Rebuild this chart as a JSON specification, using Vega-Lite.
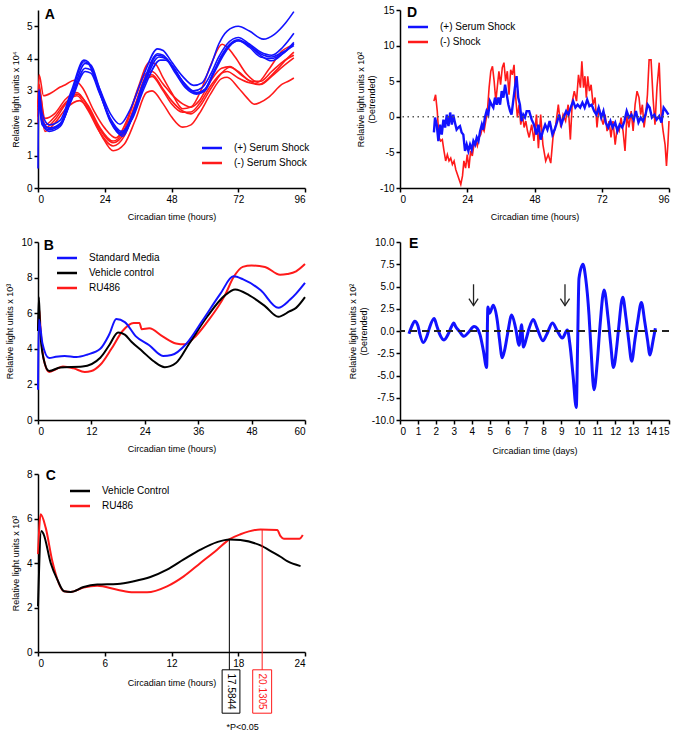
{
"$schema": "https://vega.github.io/schema/vega-lite/v6.json",
"padding": {"left": 5, "top": 5, "right": 4, "bottom": 2},
"bounds": "flush",
"columns": 2,
"spacing": {"row": 54, "column": 95},
"resolve": {"scale": {"color": "independent"}, "legend": {"color": "independent"}},
"config": {
  "font": "Liberation Sans",
  "locale": {"number": {"decimal": ".", "thousands": ",", "grouping": [3], "currency": ["$", ""], "minus": "-"}},
  "view": {"stroke": null},
  "axis": {"grid": false, "labelOverlap": false, "domainColor": "#000", "domainWidth": 1.5, "tickColor": "#000", "tickWidth": 1.5, "tickSize": 4, "labelColor": "#000", "labelFontSize": 10, "labelPadding": 2, "titleColor": "#000", "titleFontSize": 9, "titleFontWeight": "normal"},
  "axisX": {"titlePadding": 8},
  "axisY": {"titlePadding": 6},
  "legend": {"labelFontSize": 10, "labelColor": "#000", "symbolType": "M-1.54,0H1.54", "symbolStrokeWidth": 2.5, "symbolSize": 169, "rowPadding": 2, "labelOffset": 14}
},
"datasets": {
"A": [
{"t":0,"v":2.6,"s":"(-) Serum Shock","r":"r1"},{"t":0.4,"v":3.5,"s":"(-) Serum Shock","r":"r1"},{"t":2,"v":2.85,"s":"(-) Serum Shock","r":"r1"},{"t":5,"v":2.95,"s":"(-) Serum Shock","r":"r1"},{"t":8,"v":3.12,"s":"(-) Serum Shock","r":"r1"},{"t":10,"v":3.2,"s":"(-) Serum Shock","r":"r1"},{"t":13,"v":3.33,"s":"(-) Serum Shock","r":"r1"},{"t":16,"v":3.1,"s":"(-) Serum Shock","r":"r1"},{"t":20,"v":2.4,"s":"(-) Serum Shock","r":"r1"},{"t":24,"v":1.85,"s":"(-) Serum Shock","r":"r1"},{"t":28,"v":1.55,"s":"(-) Serum Shock","r":"r1"},{"t":32,"v":2.1,"s":"(-) Serum Shock","r":"r1"},{"t":36,"v":3.1,"s":"(-) Serum Shock","r":"r1"},{"t":40,"v":3.88,"s":"(-) Serum Shock","r":"r1"},{"t":42,"v":3.85,"s":"(-) Serum Shock","r":"r1"},{"t":45,"v":3.4,"s":"(-) Serum Shock","r":"r1"},{"t":48,"v":2.95,"s":"(-) Serum Shock","r":"r1"},{"t":52,"v":2.45,"s":"(-) Serum Shock","r":"r1"},{"t":55,"v":2.5,"s":"(-) Serum Shock","r":"r1"},{"t":59,"v":3.1,"s":"(-) Serum Shock","r":"r1"},{"t":62.6,"v":3.9,"s":"(-) Serum Shock","r":"r1"},{"t":66.2,"v":4.44,"s":"(-) Serum Shock","r":"r1"},{"t":68,"v":4.35,"s":"(-) Serum Shock","r":"r1"},{"t":71,"v":4.03,"s":"(-) Serum Shock","r":"r1"},{"t":75,"v":3.52,"s":"(-) Serum Shock","r":"r1"},{"t":79,"v":3.27,"s":"(-) Serum Shock","r":"r1"},{"t":83,"v":3.67,"s":"(-) Serum Shock","r":"r1"},{"t":87.8,"v":4.24,"s":"(-) Serum Shock","r":"r1"},{"t":91,"v":4.4,"s":"(-) Serum Shock","r":"r1"},{"t":92,"v":4.45,"s":"(-) Serum Shock","r":"r1"},
{"t":0,"v":2.2,"s":"(-) Serum Shock","r":"r2"},{"t":0.4,"v":3.0,"s":"(-) Serum Shock","r":"r2"},{"t":2.5,"v":2.15,"s":"(-) Serum Shock","r":"r2"},{"t":6,"v":2.3,"s":"(-) Serum Shock","r":"r2"},{"t":10,"v":2.75,"s":"(-) Serum Shock","r":"r2"},{"t":14,"v":2.95,"s":"(-) Serum Shock","r":"r2"},{"t":18,"v":2.5,"s":"(-) Serum Shock","r":"r2"},{"t":22,"v":1.85,"s":"(-) Serum Shock","r":"r2"},{"t":27,"v":1.4,"s":"(-) Serum Shock","r":"r2"},{"t":31,"v":1.7,"s":"(-) Serum Shock","r":"r2"},{"t":35,"v":2.6,"s":"(-) Serum Shock","r":"r2"},{"t":39,"v":3.45,"s":"(-) Serum Shock","r":"r2"},{"t":41,"v":3.5,"s":"(-) Serum Shock","r":"r2"},{"t":45,"v":3.05,"s":"(-) Serum Shock","r":"r2"},{"t":48,"v":2.7,"s":"(-) Serum Shock","r":"r2"},{"t":52,"v":2.38,"s":"(-) Serum Shock","r":"r2"},{"t":55,"v":2.29,"s":"(-) Serum Shock","r":"r2"},{"t":58,"v":2.5,"s":"(-) Serum Shock","r":"r2"},{"t":62,"v":3.05,"s":"(-) Serum Shock","r":"r2"},{"t":66,"v":3.55,"s":"(-) Serum Shock","r":"r2"},{"t":69,"v":3.73,"s":"(-) Serum Shock","r":"r2"},{"t":72,"v":3.6,"s":"(-) Serum Shock","r":"r2"},{"t":76,"v":3.31,"s":"(-) Serum Shock","r":"r2"},{"t":79.5,"v":3.2,"s":"(-) Serum Shock","r":"r2"},{"t":85.5,"v":3.62,"s":"(-) Serum Shock","r":"r2"},{"t":89,"v":3.95,"s":"(-) Serum Shock","r":"r2"},{"t":92,"v":4.2,"s":"(-) Serum Shock","r":"r2"},
{"t":0,"v":2.4,"s":"(-) Serum Shock","r":"r3"},{"t":0.4,"v":2.9,"s":"(-) Serum Shock","r":"r3"},{"t":2.5,"v":1.95,"s":"(-) Serum Shock","r":"r3"},{"t":6,"v":2.2,"s":"(-) Serum Shock","r":"r3"},{"t":10,"v":2.65,"s":"(-) Serum Shock","r":"r3"},{"t":14,"v":2.85,"s":"(-) Serum Shock","r":"r3"},{"t":18,"v":2.4,"s":"(-) Serum Shock","r":"r3"},{"t":22,"v":1.75,"s":"(-) Serum Shock","r":"r3"},{"t":27,"v":1.3,"s":"(-) Serum Shock","r":"r3"},{"t":31,"v":1.6,"s":"(-) Serum Shock","r":"r3"},{"t":35,"v":2.5,"s":"(-) Serum Shock","r":"r3"},{"t":39,"v":3.35,"s":"(-) Serum Shock","r":"r3"},{"t":41,"v":3.45,"s":"(-) Serum Shock","r":"r3"},{"t":45,"v":3.0,"s":"(-) Serum Shock","r":"r3"},{"t":48,"v":2.6,"s":"(-) Serum Shock","r":"r3"},{"t":52,"v":2.34,"s":"(-) Serum Shock","r":"r3"},{"t":55,"v":2.35,"s":"(-) Serum Shock","r":"r3"},{"t":58,"v":2.6,"s":"(-) Serum Shock","r":"r3"},{"t":62,"v":3.15,"s":"(-) Serum Shock","r":"r3"},{"t":66,"v":3.55,"s":"(-) Serum Shock","r":"r3"},{"t":68,"v":3.6,"s":"(-) Serum Shock","r":"r3"},{"t":72,"v":3.4,"s":"(-) Serum Shock","r":"r3"},{"t":76,"v":3.25,"s":"(-) Serum Shock","r":"r3"},{"t":80,"v":3.2,"s":"(-) Serum Shock","r":"r3"},{"t":84,"v":3.45,"s":"(-) Serum Shock","r":"r3"},{"t":88,"v":3.75,"s":"(-) Serum Shock","r":"r3"},{"t":92,"v":4.02,"s":"(-) Serum Shock","r":"r3"},
{"t":0,"v":2.0,"s":"(-) Serum Shock","r":"r4"},{"t":0.4,"v":2.7,"s":"(-) Serum Shock","r":"r4"},{"t":2.5,"v":1.75,"s":"(-) Serum Shock","r":"r4"},{"t":6,"v":2.0,"s":"(-) Serum Shock","r":"r4"},{"t":10,"v":2.45,"s":"(-) Serum Shock","r":"r4"},{"t":15,"v":2.7,"s":"(-) Serum Shock","r":"r4"},{"t":19,"v":2.3,"s":"(-) Serum Shock","r":"r4"},{"t":23,"v":1.6,"s":"(-) Serum Shock","r":"r4"},{"t":27,"v":1.15,"s":"(-) Serum Shock","r":"r4"},{"t":31,"v":1.35,"s":"(-) Serum Shock","r":"r4"},{"t":35,"v":2.1,"s":"(-) Serum Shock","r":"r4"},{"t":39,"v":2.95,"s":"(-) Serum Shock","r":"r4"},{"t":41,"v":3.0,"s":"(-) Serum Shock","r":"r4"},{"t":45,"v":2.6,"s":"(-) Serum Shock","r":"r4"},{"t":48,"v":2.2,"s":"(-) Serum Shock","r":"r4"},{"t":52,"v":1.88,"s":"(-) Serum Shock","r":"r4"},{"t":55,"v":1.95,"s":"(-) Serum Shock","r":"r4"},{"t":58,"v":2.3,"s":"(-) Serum Shock","r":"r4"},{"t":62,"v":2.9,"s":"(-) Serum Shock","r":"r4"},{"t":66,"v":3.38,"s":"(-) Serum Shock","r":"r4"},{"t":68,"v":3.42,"s":"(-) Serum Shock","r":"r4"},{"t":72,"v":3.1,"s":"(-) Serum Shock","r":"r4"},{"t":75,"v":2.8,"s":"(-) Serum Shock","r":"r4"},{"t":77.7,"v":2.59,"s":"(-) Serum Shock","r":"r4"},{"t":80,"v":2.65,"s":"(-) Serum Shock","r":"r4"},{"t":83,"v":2.81,"s":"(-) Serum Shock","r":"r4"},{"t":87.8,"v":3.21,"s":"(-) Serum Shock","r":"r4"},{"t":90,"v":3.3,"s":"(-) Serum Shock","r":"r4"},{"t":92,"v":3.4,"s":"(-) Serum Shock","r":"r4"},
{"t":0,"v":2.5,"s":"(-) Serum Shock","r":"r5"},{"t":0.4,"v":3.2,"s":"(-) Serum Shock","r":"r5"},{"t":2.5,"v":1.85,"s":"(-) Serum Shock","r":"r5"},{"t":6,"v":2.1,"s":"(-) Serum Shock","r":"r5"},{"t":10,"v":2.6,"s":"(-) Serum Shock","r":"r5"},{"t":14,"v":2.9,"s":"(-) Serum Shock","r":"r5"},{"t":18,"v":2.55,"s":"(-) Serum Shock","r":"r5"},{"t":22,"v":1.9,"s":"(-) Serum Shock","r":"r5"},{"t":27,"v":1.45,"s":"(-) Serum Shock","r":"r5"},{"t":31,"v":1.8,"s":"(-) Serum Shock","r":"r5"},{"t":35,"v":2.8,"s":"(-) Serum Shock","r":"r5"},{"t":39,"v":3.55,"s":"(-) Serum Shock","r":"r5"},{"t":41,"v":3.6,"s":"(-) Serum Shock","r":"r5"},{"t":45,"v":3.21,"s":"(-) Serum Shock","r":"r5"},{"t":48,"v":2.9,"s":"(-) Serum Shock","r":"r5"},{"t":52,"v":2.6,"s":"(-) Serum Shock","r":"r5"},{"t":55,"v":2.5,"s":"(-) Serum Shock","r":"r5"},{"t":58,"v":2.7,"s":"(-) Serum Shock","r":"r5"},{"t":62,"v":3.3,"s":"(-) Serum Shock","r":"r5"},{"t":66,"v":3.7,"s":"(-) Serum Shock","r":"r5"},{"t":69,"v":3.75,"s":"(-) Serum Shock","r":"r5"},{"t":73,"v":3.5,"s":"(-) Serum Shock","r":"r5"},{"t":77,"v":3.3,"s":"(-) Serum Shock","r":"r5"},{"t":80,"v":3.3,"s":"(-) Serum Shock","r":"r5"},{"t":84,"v":3.6,"s":"(-) Serum Shock","r":"r5"},{"t":88,"v":3.9,"s":"(-) Serum Shock","r":"r5"},{"t":92,"v":4.1,"s":"(-) Serum Shock","r":"r5"},
{"t":0,"v":0.6,"s":"(+) Serum Shock","r":"b1"},{"t":0.3,"v":3.05,"s":"(+) Serum Shock","r":"b1"},{"t":1.5,"v":2.3,"s":"(+) Serum Shock","r":"b1"},{"t":4,"v":1.95,"s":"(+) Serum Shock","r":"b1"},{"t":8,"v":2.1,"s":"(+) Serum Shock","r":"b1"},{"t":12,"v":3.0,"s":"(+) Serum Shock","r":"b1"},{"t":16.5,"v":3.95,"s":"(+) Serum Shock","r":"b1"},{"t":18,"v":3.9,"s":"(+) Serum Shock","r":"b1"},{"t":22,"v":3.1,"s":"(+) Serum Shock","r":"b1"},{"t":26,"v":2.3,"s":"(+) Serum Shock","r":"b1"},{"t":29.5,"v":1.97,"s":"(+) Serum Shock","r":"b1"},{"t":33,"v":2.4,"s":"(+) Serum Shock","r":"b1"},{"t":38,"v":3.5,"s":"(+) Serum Shock","r":"b1"},{"t":43,"v":4.3,"s":"(+) Serum Shock","r":"b1"},{"t":45,"v":4.25,"s":"(+) Serum Shock","r":"b1"},{"t":48,"v":3.9,"s":"(+) Serum Shock","r":"b1"},{"t":52,"v":3.45,"s":"(+) Serum Shock","r":"b1"},{"t":56,"v":3.17,"s":"(+) Serum Shock","r":"b1"},{"t":59,"v":3.25,"s":"(+) Serum Shock","r":"b1"},{"t":62,"v":3.75,"s":"(+) Serum Shock","r":"b1"},{"t":65,"v":4.45,"s":"(+) Serum Shock","r":"b1"},{"t":68,"v":4.85,"s":"(+) Serum Shock","r":"b1"},{"t":72,"v":5.0,"s":"(+) Serum Shock","r":"b1"},{"t":76,"v":4.85,"s":"(+) Serum Shock","r":"b1"},{"t":81,"v":4.6,"s":"(+) Serum Shock","r":"b1"},{"t":85,"v":4.75,"s":"(+) Serum Shock","r":"b1"},{"t":89,"v":5.1,"s":"(+) Serum Shock","r":"b1"},{"t":92,"v":5.45,"s":"(+) Serum Shock","r":"b1"},
{"t":0.3,"v":3.0,"s":"(+) Serum Shock","r":"b2"},{"t":1.5,"v":2.1,"s":"(+) Serum Shock","r":"b2"},{"t":4,"v":1.85,"s":"(+) Serum Shock","r":"b2"},{"t":8,"v":2.0,"s":"(+) Serum Shock","r":"b2"},{"t":12,"v":2.9,"s":"(+) Serum Shock","r":"b2"},{"t":16.5,"v":3.9,"s":"(+) Serum Shock","r":"b2"},{"t":18,"v":3.85,"s":"(+) Serum Shock","r":"b2"},{"t":22,"v":3.0,"s":"(+) Serum Shock","r":"b2"},{"t":26,"v":2.1,"s":"(+) Serum Shock","r":"b2"},{"t":30,"v":1.7,"s":"(+) Serum Shock","r":"b2"},{"t":34,"v":2.3,"s":"(+) Serum Shock","r":"b2"},{"t":38,"v":3.3,"s":"(+) Serum Shock","r":"b2"},{"t":43,"v":4.15,"s":"(+) Serum Shock","r":"b2"},{"t":45,"v":4.1,"s":"(+) Serum Shock","r":"b2"},{"t":48,"v":3.8,"s":"(+) Serum Shock","r":"b2"},{"t":52,"v":3.3,"s":"(+) Serum Shock","r":"b2"},{"t":56,"v":3.0,"s":"(+) Serum Shock","r":"b2"},{"t":59,"v":3.1,"s":"(+) Serum Shock","r":"b2"},{"t":62,"v":3.5,"s":"(+) Serum Shock","r":"b2"},{"t":65,"v":4.05,"s":"(+) Serum Shock","r":"b2"},{"t":68,"v":4.45,"s":"(+) Serum Shock","r":"b2"},{"t":72,"v":4.65,"s":"(+) Serum Shock","r":"b2"},{"t":76,"v":4.45,"s":"(+) Serum Shock","r":"b2"},{"t":80,"v":4.2,"s":"(+) Serum Shock","r":"b2"},{"t":84,"v":4.1,"s":"(+) Serum Shock","r":"b2"},{"t":88,"v":4.35,"s":"(+) Serum Shock","r":"b2"},{"t":92,"v":4.78,"s":"(+) Serum Shock","r":"b2"},
{"t":0.3,"v":2.9,"s":"(+) Serum Shock","r":"b3"},{"t":1.5,"v":2.0,"s":"(+) Serum Shock","r":"b3"},{"t":4,"v":1.75,"s":"(+) Serum Shock","r":"b3"},{"t":8,"v":1.9,"s":"(+) Serum Shock","r":"b3"},{"t":12,"v":2.8,"s":"(+) Serum Shock","r":"b3"},{"t":17,"v":3.85,"s":"(+) Serum Shock","r":"b3"},{"t":19,"v":3.8,"s":"(+) Serum Shock","r":"b3"},{"t":22,"v":3.1,"s":"(+) Serum Shock","r":"b3"},{"t":26,"v":2.1,"s":"(+) Serum Shock","r":"b3"},{"t":30.5,"v":1.6,"s":"(+) Serum Shock","r":"b3"},{"t":34,"v":2.2,"s":"(+) Serum Shock","r":"b3"},{"t":38,"v":3.15,"s":"(+) Serum Shock","r":"b3"},{"t":43.5,"v":4.05,"s":"(+) Serum Shock","r":"b3"},{"t":46,"v":4.0,"s":"(+) Serum Shock","r":"b3"},{"t":49,"v":3.65,"s":"(+) Serum Shock","r":"b3"},{"t":53,"v":3.2,"s":"(+) Serum Shock","r":"b3"},{"t":57,"v":2.93,"s":"(+) Serum Shock","r":"b3"},{"t":60,"v":3.05,"s":"(+) Serum Shock","r":"b3"},{"t":63,"v":3.55,"s":"(+) Serum Shock","r":"b3"},{"t":66,"v":4.1,"s":"(+) Serum Shock","r":"b3"},{"t":69,"v":4.45,"s":"(+) Serum Shock","r":"b3"},{"t":72,"v":4.58,"s":"(+) Serum Shock","r":"b3"},{"t":76,"v":4.4,"s":"(+) Serum Shock","r":"b3"},{"t":80,"v":4.1,"s":"(+) Serum Shock","r":"b3"},{"t":84,"v":3.93,"s":"(+) Serum Shock","r":"b3"},{"t":88,"v":4.15,"s":"(+) Serum Shock","r":"b3"},{"t":92,"v":4.5,"s":"(+) Serum Shock","r":"b3"},
{"t":0.3,"v":2.85,"s":"(+) Serum Shock","r":"b4"},{"t":1.5,"v":1.95,"s":"(+) Serum Shock","r":"b4"},{"t":4,"v":1.8,"s":"(+) Serum Shock","r":"b4"},{"t":8,"v":1.95,"s":"(+) Serum Shock","r":"b4"},{"t":12,"v":2.7,"s":"(+) Serum Shock","r":"b4"},{"t":17,"v":3.6,"s":"(+) Serum Shock","r":"b4"},{"t":19,"v":3.55,"s":"(+) Serum Shock","r":"b4"},{"t":22,"v":2.95,"s":"(+) Serum Shock","r":"b4"},{"t":26,"v":2.15,"s":"(+) Serum Shock","r":"b4"},{"t":30,"v":1.75,"s":"(+) Serum Shock","r":"b4"},{"t":34,"v":2.15,"s":"(+) Serum Shock","r":"b4"},{"t":38,"v":3.05,"s":"(+) Serum Shock","r":"b4"},{"t":44,"v":3.95,"s":"(+) Serum Shock","r":"b4"},{"t":46,"v":3.95,"s":"(+) Serum Shock","r":"b4"},{"t":49,"v":3.6,"s":"(+) Serum Shock","r":"b4"},{"t":53,"v":3.1,"s":"(+) Serum Shock","r":"b4"},{"t":57,"v":2.9,"s":"(+) Serum Shock","r":"b4"},{"t":60,"v":3.0,"s":"(+) Serum Shock","r":"b4"},{"t":63,"v":3.5,"s":"(+) Serum Shock","r":"b4"},{"t":66,"v":4.0,"s":"(+) Serum Shock","r":"b4"},{"t":69,"v":4.4,"s":"(+) Serum Shock","r":"b4"},{"t":72,"v":4.55,"s":"(+) Serum Shock","r":"b4"},{"t":76,"v":4.35,"s":"(+) Serum Shock","r":"b4"},{"t":80,"v":4.05,"s":"(+) Serum Shock","r":"b4"},{"t":84,"v":4.0,"s":"(+) Serum Shock","r":"b4"},{"t":88,"v":4.15,"s":"(+) Serum Shock","r":"b4"},{"t":92,"v":4.45,"s":"(+) Serum Shock","r":"b4"},
{"t":0.3,"v":2.95,"s":"(+) Serum Shock","r":"b5"},{"t":1.5,"v":2.05,"s":"(+) Serum Shock","r":"b5"},{"t":4,"v":1.85,"s":"(+) Serum Shock","r":"b5"},{"t":8,"v":1.95,"s":"(+) Serum Shock","r":"b5"},{"t":12,"v":2.75,"s":"(+) Serum Shock","r":"b5"},{"t":17,"v":3.7,"s":"(+) Serum Shock","r":"b5"},{"t":19,"v":3.65,"s":"(+) Serum Shock","r":"b5"},{"t":22,"v":3.0,"s":"(+) Serum Shock","r":"b5"},{"t":26,"v":2.05,"s":"(+) Serum Shock","r":"b5"},{"t":30,"v":1.65,"s":"(+) Serum Shock","r":"b5"},{"t":34,"v":2.2,"s":"(+) Serum Shock","r":"b5"},{"t":38,"v":3.2,"s":"(+) Serum Shock","r":"b5"},{"t":43,"v":4.1,"s":"(+) Serum Shock","r":"b5"},{"t":46,"v":4.0,"s":"(+) Serum Shock","r":"b5"},{"t":49,"v":3.7,"s":"(+) Serum Shock","r":"b5"},{"t":53,"v":3.15,"s":"(+) Serum Shock","r":"b5"},{"t":57,"v":2.95,"s":"(+) Serum Shock","r":"b5"},{"t":60,"v":3.05,"s":"(+) Serum Shock","r":"b5"},{"t":63,"v":3.55,"s":"(+) Serum Shock","r":"b5"},{"t":66,"v":4.05,"s":"(+) Serum Shock","r":"b5"},{"t":69,"v":4.4,"s":"(+) Serum Shock","r":"b5"},{"t":72,"v":4.55,"s":"(+) Serum Shock","r":"b5"},{"t":76,"v":4.4,"s":"(+) Serum Shock","r":"b5"},{"t":80,"v":4.15,"s":"(+) Serum Shock","r":"b5"},{"t":84,"v":4.05,"s":"(+) Serum Shock","r":"b5"},{"t":88,"v":4.2,"s":"(+) Serum Shock","r":"b5"},{"t":92,"v":4.4,"s":"(+) Serum Shock","r":"b5"}
],
"B": [
{"t":0,"v":5.0,"s":"RU486"},{"t":0.3,"v":6.2,"s":"RU486"},{"t":0.6,"v":5.0,"s":"RU486"},{"t":1.3,"v":3.4,"s":"RU486"},{"t":2.5,"v":2.7,"s":"RU486"},{"t":4,"v":2.85,"s":"RU486"},{"t":5.6,"v":3.0,"s":"RU486"},{"t":8,"v":2.9,"s":"RU486"},{"t":10.5,"v":2.7,"s":"RU486"},{"t":12,"v":2.75,"s":"RU486"},{"t":14,"v":3.1,"s":"RU486"},{"t":16.5,"v":4.0,"s":"RU486"},{"t":19,"v":5.0,"s":"RU486"},{"t":21.5,"v":5.45,"s":"RU486"},{"t":22.8,"v":5.45,"s":"RU486"},{"t":23.3,"v":5.1,"s":"RU486"},{"t":25,"v":5.15,"s":"RU486"},{"t":28,"v":4.7,"s":"RU486"},{"t":31,"v":4.3,"s":"RU486"},{"t":33,"v":4.25,"s":"RU486"},{"t":35,"v":4.6,"s":"RU486"},{"t":38,"v":5.5,"s":"RU486"},{"t":42,"v":7.0,"s":"RU486"},{"t":43.9,"v":8.0,"s":"RU486"},{"t":46,"v":8.6,"s":"RU486"},{"t":48,"v":8.68,"s":"RU486"},{"t":51,"v":8.6,"s":"RU486"},{"t":54.4,"v":8.16,"s":"RU486"},{"t":56,"v":8.2,"s":"RU486"},{"t":58,"v":8.35,"s":"RU486"},{"t":60,"v":8.76,"s":"RU486"},
{"t":0,"v":5.0,"s":"Vehicle control"},{"t":0.2,"v":6.9,"s":"Vehicle control"},{"t":0.5,"v":5.0,"s":"Vehicle control"},{"t":1.2,"v":3.5,"s":"Vehicle control"},{"t":2.5,"v":2.75,"s":"Vehicle control"},{"t":5,"v":2.95,"s":"Vehicle control"},{"t":10,"v":3.0,"s":"Vehicle control"},{"t":14,"v":3.5,"s":"Vehicle control"},{"t":16,"v":4.2,"s":"Vehicle control"},{"t":18,"v":4.92,"s":"Vehicle control"},{"t":19.5,"v":4.8,"s":"Vehicle control"},{"t":21,"v":4.4,"s":"Vehicle control"},{"t":23.5,"v":3.85,"s":"Vehicle control"},{"t":26,"v":3.3,"s":"Vehicle control"},{"t":28.5,"v":2.97,"s":"Vehicle control"},{"t":31,"v":3.2,"s":"Vehicle control"},{"t":34,"v":4.3,"s":"Vehicle control"},{"t":38,"v":5.8,"s":"Vehicle control"},{"t":42,"v":7.0,"s":"Vehicle control"},{"t":44.3,"v":7.33,"s":"Vehicle control"},{"t":47.5,"v":7.0,"s":"Vehicle control"},{"t":51,"v":6.4,"s":"Vehicle control"},{"t":54,"v":5.8,"s":"Vehicle control"},{"t":56.5,"v":6.1,"s":"Vehicle control"},{"t":58,"v":6.3,"s":"Vehicle control"},{"t":60,"v":6.9,"s":"Vehicle control"},
{"t":0,"v":1.7,"s":"Standard Media"},{"t":0.2,"v":5.65,"s":"Standard Media"},{"t":1,"v":4.3,"s":"Standard Media"},{"t":2.5,"v":3.48,"s":"Standard Media"},{"t":4,"v":3.55,"s":"Standard Media"},{"t":6,"v":3.6,"s":"Standard Media"},{"t":8.6,"v":3.54,"s":"Standard Media"},{"t":11,"v":3.67,"s":"Standard Media"},{"t":14,"v":4.0,"s":"Standard Media"},{"t":16,"v":4.8,"s":"Standard Media"},{"t":17.6,"v":5.67,"s":"Standard Media"},{"t":19.5,"v":5.5,"s":"Standard Media"},{"t":22,"v":4.7,"s":"Standard Media"},{"t":25,"v":4.2,"s":"Standard Media"},{"t":28.1,"v":3.6,"s":"Standard Media"},{"t":30,"v":3.65,"s":"Standard Media"},{"t":33.4,"v":4.3,"s":"Standard Media"},{"t":37,"v":5.6,"s":"Standard Media"},{"t":41,"v":7.1,"s":"Standard Media"},{"t":43.9,"v":8.07,"s":"Standard Media"},{"t":46.1,"v":7.9,"s":"Standard Media"},{"t":50,"v":7.3,"s":"Standard Media"},{"t":54,"v":6.3,"s":"Standard Media"},{"t":56.6,"v":6.75,"s":"Standard Media"},{"t":58,"v":7.1,"s":"Standard Media"},{"t":60,"v":7.7,"s":"Standard Media"}
],
"C": [
{"t":0,"v":4.4,"s":"RU486"},{"t":0.24,"v":6.19,"s":"RU486"},{"t":0.69,"v":5.59,"s":"RU486"},{"t":1.29,"v":4.08,"s":"RU486"},{"t":2.34,"v":2.73,"s":"RU486"},{"t":2.94,"v":2.7,"s":"RU486"},{"t":4.1,"v":2.9,"s":"RU486"},{"t":5.33,"v":2.98,"s":"RU486"},{"t":7.13,"v":2.8,"s":"RU486"},{"t":8.6,"v":2.68,"s":"RU486"},{"t":9.8,"v":2.68,"s":"RU486"},{"t":11.6,"v":2.95,"s":"RU486"},{"t":13.1,"v":3.4,"s":"RU486"},{"t":14.6,"v":4.0,"s":"RU486"},{"t":16.1,"v":4.6,"s":"RU486"},{"t":17.2,"v":5.06,"s":"RU486"},{"t":18.2,"v":5.29,"s":"RU486"},{"t":20.0,"v":5.51,"s":"RU486"},{"t":21.5,"v":5.48,"s":"RU486"},{"t":21.8,"v":5.21,"s":"RU486"},{"t":22.1,"v":5.09,"s":"RU486"},{"t":23.5,"v":5.09,"s":"RU486"},{"t":23.8,"v":5.26,"s":"RU486"},
{"t":0,"v":2.05,"s":"Vehicle Control"},{"t":0.3,"v":5.44,"s":"Vehicle Control"},{"t":0.5,"v":5.3,"s":"Vehicle Control"},{"t":1.14,"v":4.0,"s":"Vehicle Control"},{"t":1.74,"v":3.25,"s":"Vehicle Control"},{"t":2.34,"v":2.73,"s":"Vehicle Control"},{"t":2.94,"v":2.7,"s":"Vehicle Control"},{"t":4.1,"v":2.92,"s":"Vehicle Control"},{"t":5.33,"v":3.03,"s":"Vehicle Control"},{"t":7.13,"v":3.06,"s":"Vehicle Control"},{"t":8.6,"v":3.18,"s":"Vehicle Control"},{"t":10.1,"v":3.37,"s":"Vehicle Control"},{"t":11.6,"v":3.7,"s":"Vehicle Control"},{"t":13.1,"v":4.16,"s":"Vehicle Control"},{"t":14.6,"v":4.6,"s":"Vehicle Control"},{"t":16.1,"v":4.94,"s":"Vehicle Control"},{"t":17.2,"v":5.06,"s":"Vehicle Control"},{"t":18.2,"v":5.03,"s":"Vehicle Control"},{"t":20.0,"v":4.79,"s":"Vehicle Control"},{"t":21.2,"v":4.45,"s":"Vehicle Control"},{"t":21.8,"v":4.28,"s":"Vehicle Control"},{"t":22.4,"v":4.08,"s":"Vehicle Control"},{"t":23.6,"v":3.86,"s":"Vehicle Control"}
],
"Cm": [
{"s":"Vehicle Control","x":17.2,"top":5.06,"bot":-0.8,"bb":-2.75,"b1":16.55,"b2":18.15,"xc":17.35,"yc":-1.78,"lab":"17.5844"},
{"s":"RU486","x":20.15,"top":5.51,"bot":-0.8,"bb":-2.75,"b1":19.3,"b2":21.0,"xc":20.15,"yc":-1.78,"lab":"20.1305"}
],
"D": [
{"t":12.1,"v":2.2,"s":"(-) Shock"},{"t":12.7,"v":3.1,"s":"(-) Shock"},{"t":13.3,"v":0.8,"s":"(-) Shock"},{"t":13.9,"v":-2.9,"s":"(-) Shock"},{"t":14.5,"v":-3.4,"s":"(-) Shock"},{"t":15.1,"v":-3.2,"s":"(-) Shock"},{"t":15.7,"v":-4.8,"s":"(-) Shock"},{"t":16.3,"v":-6.2,"s":"(-) Shock"},{"t":16.9,"v":-5.3,"s":"(-) Shock"},{"t":17.5,"v":-6.2,"s":"(-) Shock"},{"t":18.1,"v":-5.8,"s":"(-) Shock"},{"t":18.7,"v":-6.7,"s":"(-) Shock"},{"t":19.3,"v":-6.2,"s":"(-) Shock"},{"t":19.9,"v":-7.4,"s":"(-) Shock"},{"t":20.5,"v":-8.1,"s":"(-) Shock"},{"t":21.1,"v":-8.8,"s":"(-) Shock"},{"t":21.7,"v":-9.5,"s":"(-) Shock"},{"t":22.3,"v":-8.3,"s":"(-) Shock"},{"t":22.8,"v":-6.2,"s":"(-) Shock"},{"t":23.4,"v":-7.2,"s":"(-) Shock"},{"t":24.0,"v":-5.3,"s":"(-) Shock"},{"t":24.6,"v":-7.2,"s":"(-) Shock"},{"t":25.2,"v":-4.8,"s":"(-) Shock"},{"t":25.8,"v":-5.5,"s":"(-) Shock"},{"t":26.4,"v":-3.9,"s":"(-) Shock"},{"t":27.0,"v":-3.4,"s":"(-) Shock"},{"t":27.6,"v":-4.1,"s":"(-) Shock"},{"t":28.2,"v":-2.9,"s":"(-) Shock"},{"t":28.8,"v":-2.5,"s":"(-) Shock"},{"t":29.4,"v":-1.5,"s":"(-) Shock"},{"t":30.0,"v":-2.0,"s":"(-) Shock"},{"t":30.6,"v":-0.6,"s":"(-) Shock"},{"t":31.2,"v":0.8,"s":"(-) Shock"},{"t":31.8,"v":4.1,"s":"(-) Shock"},{"t":32.4,"v":6.4,"s":"(-) Shock"},{"t":33.0,"v":7.1,"s":"(-) Shock"},{"t":33.6,"v":5.0,"s":"(-) Shock"},{"t":34.2,"v":2.2,"s":"(-) Shock"},{"t":34.7,"v":4.1,"s":"(-) Shock"},{"t":35.3,"v":6.4,"s":"(-) Shock"},{"t":35.9,"v":4.5,"s":"(-) Shock"},{"t":36.5,"v":6.9,"s":"(-) Shock"},{"t":37.1,"v":7.6,"s":"(-) Shock"},{"t":37.7,"v":5.0,"s":"(-) Shock"},{"t":38.3,"v":6.4,"s":"(-) Shock"},{"t":38.9,"v":3.1,"s":"(-) Shock"},{"t":39.5,"v":6.6,"s":"(-) Shock"},{"t":40.1,"v":5.9,"s":"(-) Shock"},{"t":40.7,"v":7.3,"s":"(-) Shock"},{"t":41.3,"v":2.7,"s":"(-) Shock"},{"t":41.9,"v":-0.1,"s":"(-) Shock"},{"t":42.5,"v":1.7,"s":"(-) Shock"},{"t":43.1,"v":-1.1,"s":"(-) Shock"},{"t":43.7,"v":0.3,"s":"(-) Shock"},{"t":44.3,"v":-1.5,"s":"(-) Shock"},{"t":44.9,"v":-0.6,"s":"(-) Shock"},{"t":45.5,"v":-2.0,"s":"(-) Shock"},{"t":46.1,"v":-2.9,"s":"(-) Shock"},{"t":47.0,"v":-1.1,"s":"(-) Shock"},{"t":47.8,"v":-3.4,"s":"(-) Shock"},{"t":48.7,"v":0.3,"s":"(-) Shock"},{"t":49.4,"v":-4.4,"s":"(-) Shock"},{"t":50.2,"v":0.3,"s":"(-) Shock"},{"t":51.0,"v":-3.9,"s":"(-) Shock"},{"t":52.0,"v":-6.2,"s":"(-) Shock"},{"t":52.9,"v":-5.3,"s":"(-) Shock"},{"t":53.8,"v":-6.5,"s":"(-) Shock"},{"t":54.6,"v":-2.9,"s":"(-) Shock"},{"t":55.6,"v":-1.1,"s":"(-) Shock"},{"t":56.5,"v":1.7,"s":"(-) Shock"},{"t":57.4,"v":-1.5,"s":"(-) Shock"},{"t":58.2,"v":0.3,"s":"(-) Shock"},{"t":59.1,"v":-0.6,"s":"(-) Shock"},{"t":60.0,"v":1.7,"s":"(-) Shock"},{"t":60.8,"v":-3.2,"s":"(-) Shock"},{"t":61.5,"v":2.2,"s":"(-) Shock"},{"t":62.2,"v":3.6,"s":"(-) Shock"},{"t":63.0,"v":2.2,"s":"(-) Shock"},{"t":63.7,"v":5.9,"s":"(-) Shock"},{"t":64.4,"v":4.1,"s":"(-) Shock"},{"t":64.9,"v":7.8,"s":"(-) Shock"},{"t":65.5,"v":4.1,"s":"(-) Shock"},{"t":66.0,"v":5.7,"s":"(-) Shock"},{"t":66.5,"v":2.7,"s":"(-) Shock"},{"t":67.0,"v":5.7,"s":"(-) Shock"},{"t":67.6,"v":3.6,"s":"(-) Shock"},{"t":68.2,"v":4.5,"s":"(-) Shock"},{"t":68.9,"v":1.7,"s":"(-) Shock"},{"t":69.6,"v":2.7,"s":"(-) Shock"},{"t":70.3,"v":-1.5,"s":"(-) Shock"},{"t":71.0,"v":1.3,"s":"(-) Shock"},{"t":71.8,"v":-0.1,"s":"(-) Shock"},{"t":72.5,"v":-1.1,"s":"(-) Shock"},{"t":73.2,"v":0.3,"s":"(-) Shock"},{"t":73.9,"v":-2.0,"s":"(-) Shock"},{"t":74.6,"v":-0.6,"s":"(-) Shock"},{"t":75.3,"v":-2.9,"s":"(-) Shock"},{"t":76.0,"v":-0.6,"s":"(-) Shock"},{"t":76.8,"v":-3.9,"s":"(-) Shock"},{"t":77.5,"v":-1.5,"s":"(-) Shock"},{"t":78.2,"v":-2.0,"s":"(-) Shock"},{"t":78.9,"v":-0.1,"s":"(-) Shock"},{"t":79.6,"v":-2.0,"s":"(-) Shock"},{"t":80.3,"v":-4.8,"s":"(-) Shock"},{"t":81.0,"v":0.3,"s":"(-) Shock"},{"t":81.7,"v":-1.5,"s":"(-) Shock"},{"t":82.5,"v":0.8,"s":"(-) Shock"},{"t":83.2,"v":-2.0,"s":"(-) Shock"},{"t":83.9,"v":1.7,"s":"(-) Shock"},{"t":84.6,"v":3.6,"s":"(-) Shock"},{"t":85.3,"v":2.7,"s":"(-) Shock"},{"t":85.9,"v":0.3,"s":"(-) Shock"},{"t":86.5,"v":1.7,"s":"(-) Shock"},{"t":87.1,"v":-1.5,"s":"(-) Shock"},{"t":87.7,"v":0.3,"s":"(-) Shock"},{"t":88.3,"v":3.1,"s":"(-) Shock"},{"t":88.9,"v":8.0,"s":"(-) Shock"},{"t":89.6,"v":8.0,"s":"(-) Shock"},{"t":90.3,"v":2.7,"s":"(-) Shock"},{"t":91.0,"v":-1.1,"s":"(-) Shock"},{"t":91.7,"v":4.1,"s":"(-) Shock"},{"t":92.5,"v":7.6,"s":"(-) Shock"},{"t":93.2,"v":0.3,"s":"(-) Shock"},{"t":93.9,"v":-2.0,"s":"(-) Shock"},{"t":94.6,"v":-3.9,"s":"(-) Shock"},{"t":95.1,"v":-6.9,"s":"(-) Shock"},{"t":95.6,"v":-3.9,"s":"(-) Shock"},{"t":96.0,"v":-0.6,"s":"(-) Shock"},
{"t":12.1,"v":-2.2,"s":"(+) Serum Shock"},{"t":12.5,"v":-0.1,"s":"(+) Serum Shock"},{"t":13.1,"v":-1.1,"s":"(+) Serum Shock"},{"t":13.7,"v":-3.4,"s":"(+) Serum Shock"},{"t":14.3,"v":-1.1,"s":"(+) Serum Shock"},{"t":14.9,"v":-2.5,"s":"(+) Serum Shock"},{"t":15.5,"v":-0.4,"s":"(+) Serum Shock"},{"t":16.1,"v":-1.5,"s":"(+) Serum Shock"},{"t":16.7,"v":0.3,"s":"(+) Serum Shock"},{"t":17.3,"v":-1.3,"s":"(+) Serum Shock"},{"t":17.9,"v":0.6,"s":"(+) Serum Shock"},{"t":18.5,"v":-1.1,"s":"(+) Serum Shock"},{"t":19.0,"v":0.3,"s":"(+) Serum Shock"},{"t":19.6,"v":-0.8,"s":"(+) Serum Shock"},{"t":20.2,"v":-1.8,"s":"(+) Serum Shock"},{"t":20.8,"v":-1.5,"s":"(+) Serum Shock"},{"t":21.4,"v":-1.3,"s":"(+) Serum Shock"},{"t":22.0,"v":-2.2,"s":"(+) Serum Shock"},{"t":22.6,"v":-2.5,"s":"(+) Serum Shock"},{"t":23.2,"v":-4.8,"s":"(+) Serum Shock"},{"t":23.8,"v":-3.9,"s":"(+) Serum Shock"},{"t":24.4,"v":-4.8,"s":"(+) Serum Shock"},{"t":25.0,"v":-3.9,"s":"(+) Serum Shock"},{"t":25.6,"v":-4.6,"s":"(+) Serum Shock"},{"t":26.2,"v":-3.4,"s":"(+) Serum Shock"},{"t":26.8,"v":-3.9,"s":"(+) Serum Shock"},{"t":27.4,"v":-2.9,"s":"(+) Serum Shock"},{"t":28.0,"v":-3.4,"s":"(+) Serum Shock"},{"t":28.6,"v":-2.0,"s":"(+) Serum Shock"},{"t":29.2,"v":-1.1,"s":"(+) Serum Shock"},{"t":29.7,"v":-1.8,"s":"(+) Serum Shock"},{"t":30.3,"v":-0.1,"s":"(+) Serum Shock"},{"t":30.9,"v":0.8,"s":"(+) Serum Shock"},{"t":31.5,"v":0.3,"s":"(+) Serum Shock"},{"t":32.1,"v":2.2,"s":"(+) Serum Shock"},{"t":32.7,"v":1.7,"s":"(+) Serum Shock"},{"t":33.3,"v":1.3,"s":"(+) Serum Shock"},{"t":33.9,"v":2.7,"s":"(+) Serum Shock"},{"t":34.5,"v":1.7,"s":"(+) Serum Shock"},{"t":35.1,"v":2.7,"s":"(+) Serum Shock"},{"t":35.7,"v":1.7,"s":"(+) Serum Shock"},{"t":36.3,"v":3.6,"s":"(+) Serum Shock"},{"t":36.9,"v":2.7,"s":"(+) Serum Shock"},{"t":37.5,"v":4.5,"s":"(+) Serum Shock"},{"t":38.1,"v":3.1,"s":"(+) Serum Shock"},{"t":38.7,"v":1.7,"s":"(+) Serum Shock"},{"t":39.3,"v":0.8,"s":"(+) Serum Shock"},{"t":39.8,"v":0.3,"s":"(+) Serum Shock"},{"t":40.4,"v":2.2,"s":"(+) Serum Shock"},{"t":41.0,"v":4.1,"s":"(+) Serum Shock"},{"t":41.6,"v":5.7,"s":"(+) Serum Shock"},{"t":42.2,"v":2.7,"s":"(+) Serum Shock"},{"t":42.8,"v":1.7,"s":"(+) Serum Shock"},{"t":43.4,"v":-0.6,"s":"(+) Serum Shock"},{"t":44.0,"v":0.3,"s":"(+) Serum Shock"},{"t":44.6,"v":-0.1,"s":"(+) Serum Shock"},{"t":45.2,"v":0.8,"s":"(+) Serum Shock"},{"t":46.1,"v":0.8,"s":"(+) Serum Shock"},{"t":47.0,"v":-0.4,"s":"(+) Serum Shock"},{"t":47.8,"v":-1.1,"s":"(+) Serum Shock"},{"t":48.7,"v":-2.5,"s":"(+) Serum Shock"},{"t":49.4,"v":-1.1,"s":"(+) Serum Shock"},{"t":50.2,"v":-3.2,"s":"(+) Serum Shock"},{"t":51.0,"v":-2.0,"s":"(+) Serum Shock"},{"t":51.8,"v":-1.1,"s":"(+) Serum Shock"},{"t":52.6,"v":-1.8,"s":"(+) Serum Shock"},{"t":53.4,"v":-0.6,"s":"(+) Serum Shock"},{"t":54.4,"v":-2.5,"s":"(+) Serum Shock"},{"t":55.2,"v":-1.8,"s":"(+) Serum Shock"},{"t":56.0,"v":-0.8,"s":"(+) Serum Shock"},{"t":56.8,"v":0.3,"s":"(+) Serum Shock"},{"t":57.6,"v":-1.1,"s":"(+) Serum Shock"},{"t":58.4,"v":-0.1,"s":"(+) Serum Shock"},{"t":59.3,"v":0.8,"s":"(+) Serum Shock"},{"t":60.1,"v":0.3,"s":"(+) Serum Shock"},{"t":60.9,"v":1.3,"s":"(+) Serum Shock"},{"t":61.8,"v":2.2,"s":"(+) Serum Shock"},{"t":62.6,"v":1.3,"s":"(+) Serum Shock"},{"t":63.4,"v":1.7,"s":"(+) Serum Shock"},{"t":64.3,"v":1.3,"s":"(+) Serum Shock"},{"t":65.1,"v":2.0,"s":"(+) Serum Shock"},{"t":65.9,"v":1.3,"s":"(+) Serum Shock"},{"t":66.8,"v":2.4,"s":"(+) Serum Shock"},{"t":67.6,"v":1.5,"s":"(+) Serum Shock"},{"t":68.4,"v":1.7,"s":"(+) Serum Shock"},{"t":69.3,"v":0.8,"s":"(+) Serum Shock"},{"t":70.1,"v":0.3,"s":"(+) Serum Shock"},{"t":70.9,"v":1.3,"s":"(+) Serum Shock"},{"t":71.8,"v":-0.1,"s":"(+) Serum Shock"},{"t":72.6,"v":0.8,"s":"(+) Serum Shock"},{"t":73.4,"v":-0.8,"s":"(+) Serum Shock"},{"t":74.3,"v":-1.5,"s":"(+) Serum Shock"},{"t":75.1,"v":-0.6,"s":"(+) Serum Shock"},{"t":75.9,"v":-1.5,"s":"(+) Serum Shock"},{"t":76.8,"v":-0.8,"s":"(+) Serum Shock"},{"t":77.6,"v":-2.0,"s":"(+) Serum Shock"},{"t":78.4,"v":-1.1,"s":"(+) Serum Shock"},{"t":79.3,"v":-1.5,"s":"(+) Serum Shock"},{"t":80.1,"v":-0.6,"s":"(+) Serum Shock"},{"t":80.9,"v":0.8,"s":"(+) Serum Shock"},{"t":81.7,"v":-0.1,"s":"(+) Serum Shock"},{"t":82.6,"v":0.3,"s":"(+) Serum Shock"},{"t":83.4,"v":-0.4,"s":"(+) Serum Shock"},{"t":84.2,"v":0.8,"s":"(+) Serum Shock"},{"t":85.1,"v":-0.8,"s":"(+) Serum Shock"},{"t":85.9,"v":-0.1,"s":"(+) Serum Shock"},{"t":86.7,"v":-0.6,"s":"(+) Serum Shock"},{"t":87.6,"v":0.3,"s":"(+) Serum Shock"},{"t":88.4,"v":1.7,"s":"(+) Serum Shock"},{"t":89.1,"v":1.3,"s":"(+) Serum Shock"},{"t":89.9,"v":-0.1,"s":"(+) Serum Shock"},{"t":90.8,"v":0.3,"s":"(+) Serum Shock"},{"t":91.6,"v":-0.4,"s":"(+) Serum Shock"},{"t":92.5,"v":0.1,"s":"(+) Serum Shock"},{"t":93.3,"v":-0.8,"s":"(+) Serum Shock"},{"t":94.1,"v":1.3,"s":"(+) Serum Shock"},{"t":95.0,"v":0.8,"s":"(+) Serum Shock"},{"t":95.8,"v":0.3,"s":"(+) Serum Shock"}
],
"E": [
{"t":0.5,"v":-0.3},{"t":0.65,"v":0.5},{"t":0.82,"v":1.1},{"t":1.0,"v":0.6},{"t":1.1,"v":-0.3},{"t":1.3,"v":-1.3},{"t":1.5,"v":-0.6},{"t":1.65,"v":0.4},{"t":1.9,"v":1.4},{"t":2.05,"v":0.6},{"t":2.2,"v":-0.3},{"t":2.45,"v":-1.0},{"t":2.7,"v":-0.3},{"t":2.85,"v":0.4},{"t":3.0,"v":0.9},{"t":3.1,"v":0.5},{"t":3.3,"v":0.0},{"t":3.57,"v":-0.6},{"t":3.8,"v":-0.2},{"t":4.13,"v":0.5},{"t":4.3,"v":0.3},{"t":4.46,"v":-0.4},{"t":4.65,"v":-2.2},{"t":4.83,"v":-4.1},{"t":4.9,"v":2.7},{"t":5.0,"v":2.0},{"t":5.2,"v":2.9},{"t":5.43,"v":1.1},{"t":5.55,"v":-1.0},{"t":5.7,"v":-3.0},{"t":5.85,"v":-2.0},{"t":6.0,"v":-0.3},{"t":6.23,"v":1.8},{"t":6.45,"v":0.3},{"t":6.64,"v":-1.6},{"t":6.78,"v":0.7},{"t":6.88,"v":-1.8},{"t":7.05,"v":-0.8},{"t":7.2,"v":0.3},{"t":7.43,"v":1.3},{"t":7.65,"v":0.3},{"t":7.97,"v":-1.1},{"t":8.2,"v":-0.3},{"t":8.5,"v":0.9},{"t":8.75,"v":0.1},{"t":9.05,"v":-0.8},{"t":9.33,"v":0.1},{"t":9.48,"v":-1.6},{"t":9.65,"v":-5.0},{"t":9.83,"v":-8.6},{"t":9.9,"v":-2.0},{"t":9.98,"v":5.9},{"t":10.2,"v":7.5},{"t":10.35,"v":6.0},{"t":10.54,"v":1.8},{"t":10.65,"v":-2.0},{"t":10.82,"v":-6.6},{"t":11.0,"v":-3.5},{"t":11.15,"v":0.5},{"t":11.38,"v":4.6},{"t":11.6,"v":1.5},{"t":11.75,"v":-1.5},{"t":11.9,"v":-4.1},{"t":12.1,"v":-1.5},{"t":12.2,"v":0.5},{"t":12.42,"v":3.8},{"t":12.6,"v":1.5},{"t":12.75,"v":-1.0},{"t":12.92,"v":-3.4},{"t":13.1,"v":-1.0},{"t":13.25,"v":1.0},{"t":13.46,"v":3.2},{"t":13.65,"v":1.0},{"t":13.8,"v":-1.0},{"t":13.94,"v":-2.7},{"t":14.1,"v":-1.2},{"t":14.24,"v":0.3}
],
"Earr": [{"t":4.1,"y1":5.25,"y2":2.85},{"t":9.2,"y1":5.25,"y2":2.85}],
"one": [{}]
},
"concat": [
  {
   "width": 267, "height": 178,
   "layer": [
    {"data": {"name": "A"},
     "mark": {"type": "line", "interpolate": "monotone", "strokeWidth": 1.6},
     "encoding": {
      "x": {"field": "t", "type": "quantitative", "scale": {"domain": [0, 96], "nice": false}, "axis": {"values": [0, 24, 48, 72, 96], "title": "Circadian time (hours)"}},
      "y": {"field": "v", "type": "quantitative", "scale": {"domain": [0, 5.5], "nice": false}, "axis": {"values": [0, 1, 2, 3, 4, 5], "title": "Relative light units x 10⁴"}},
      "color": {"field": "s", "type": "nominal", "scale": {"domain": ["(+) Serum Shock", "(-) Serum Shock"], "range": ["#1212ff", "#ff1a1a"]}, "legend": {"orient": "none", "legendX": 166, "legendY": 130, "title": null}},
      "detail": {"field": "r"}
     }},
    {"data": {"name": "one"},
     "mark": {"type": "text", "fontSize": 14, "fontWeight": "bold", "align": "left", "baseline": "middle"},
     "encoding": {"x": {"datum": 2.4, "axis": {"values": [0, 24, 48, 72, 96], "title": "Circadian time (hours)"}}, "y": {"datum": 5.35, "axis": {"values": [0, 1, 2, 3, 4, 5], "title": "Relative light units x 10⁴"}}, "text": {"value": "A"}}}
   ]
  },
  {
   "width": 269, "height": 178,
   "layer": [
    {"data": {"name": "D"},
     "mark": {"type": "line", "interpolate": "linear"},
     "encoding": {
      "x": {"field": "t", "type": "quantitative", "scale": {"domain": [0, 96], "nice": false}, "axis": {"values": [0, 24, 48, 72, 96], "title": "Circadian time (hours)"}},
      "y": {"field": "v", "type": "quantitative", "scale": {"domain": [-10, 15], "nice": false}, "axis": {"values": [-10, -5, 0, 5, 10, 15], "title": ["Relative light units x 10²", "(Detrended)"], "titlePadding": 3}},
      "color": {"field": "s", "type": "nominal", "scale": {"domain": ["(+) Serum Shock", "(-) Shock"], "range": ["#1212ff", "#ff1a1a"]}, "legend": {"orient": "none", "legendX": 10, "legendY": 9, "title": null}},
      "strokeWidth": {"field": "s", "type": "nominal", "scale": {"domain": ["(+) Serum Shock", "(-) Shock"], "range": [2.4, 1.6]}, "legend": null},
      "order": {"field": "t", "type": "quantitative"}
     }},
    {"data": {"name": "one"},
     "mark": {"type": "rule", "strokeDash": [1.5, 3.5], "strokeWidth": 1.5, "color": "#555"},
     "encoding": {"y": {"datum": 0, "axis": {"values": [-10, -5, 0, 5, 10, 15], "title": ["Relative light units x 10²", "(Detrended)"], "titlePadding": 3}}}},
    {"data": {"name": "one"},
     "mark": {"type": "text", "fontSize": 14, "fontWeight": "bold", "align": "left", "baseline": "middle"},
     "encoding": {"x": {"datum": 2.5, "axis": {"values": [0, 24, 48, 72, 96], "title": "Circadian time (hours)"}}, "y": {"datum": 14.6, "axis": {"values": [-10, -5, 0, 5, 10, 15], "title": ["Relative light units x 10²", "(Detrended)"], "titlePadding": 3}}, "text": {"value": "D"}}}
   ]
  },
  {
   "width": 267, "height": 178,
   "layer": [
    {"data": {"name": "B"},
     "mark": {"type": "line", "interpolate": "monotone", "strokeWidth": 2},
     "encoding": {
      "x": {"field": "t", "type": "quantitative", "scale": {"domain": [0, 60], "nice": false}, "axis": {"values": [0, 12, 24, 36, 48, 60], "title": "Circadian time (hours)"}},
      "y": {"field": "v", "type": "quantitative", "scale": {"domain": [0, 10], "nice": false}, "axis": {"values": [0, 2, 4, 6, 8, 10], "title": "Relative light units x 10³"}},
      "color": {"field": "s", "type": "nominal", "scale": {"domain": ["Standard Media", "Vehicle control", "RU486"], "range": ["#1212ff", "#000000", "#ff1a1a"]}, "legend": {"orient": "none", "legendX": 21, "legendY": 8, "title": null}}
     }},
    {"data": {"name": "one"},
     "mark": {"type": "text", "fontSize": 14, "fontWeight": "bold", "align": "left", "baseline": "middle"},
     "encoding": {"x": {"datum": 1.3, "axis": {"values": [0, 12, 24, 36, 48, 60], "title": "Circadian time (hours)"}}, "y": {"datum": 9.8, "axis": {"values": [0, 2, 4, 6, 8, 10], "title": "Relative light units x 10³"}}, "text": {"value": "B"}}}
   ]
  },
  {
   "width": 269, "height": 178,
   "layer": [
    {"data": {"name": "E"},
     "mark": {"type": "line", "interpolate": "monotone", "strokeWidth": 3, "color": "#1212ff"},
     "encoding": {
      "x": {"field": "t", "type": "quantitative", "scale": {"domain": [0, 15], "nice": false}, "axis": {"values": [0,1,2,3,4,5,6,7,8,9,10,11,12,13,14,15], "title": "Circadian time (days)", "titlePadding": 10}},
      "y": {"field": "v", "type": "quantitative", "scale": {"domain": [-10, 10], "nice": false}, "axis": {"values": [-10, -7.5, -5, -2.5, 0, 2.5, 5, 7.5, 10], "format": ".1f", "title": ["Relative light units x 10²", "(Detrended)"], "titlePadding": 3}}
     }},
    {"data": {"name": "one"},
     "mark": {"type": "rule", "strokeDash": [7, 5], "strokeWidth": 2.2, "color": "#222"},
     "encoding": {"y": {"datum": 0, "axis": {"values": [-10, -7.5, -5, -2.5, 0, 2.5, 5, 7.5, 10], "format": ".1f", "title": ["Relative light units x 10²", "(Detrended)"], "titlePadding": 3}}}},
    {"data": {"name": "Earr"},
     "mark": {"type": "rule", "strokeWidth": 1.3, "color": "#222"},
     "encoding": {"x": {"field": "t", "type": "quantitative", "axis": {"values": [0,1,2,3,4,5,6,7,8,9,10,11,12,13,14,15], "title": "Circadian time (days)", "titlePadding": 10}}, "y": {"field": "y1", "type": "quantitative", "axis": {"values": [-10, -7.5, -5, -2.5, 0, 2.5, 5, 7.5, 10], "format": ".1f", "title": ["Relative light units x 10²", "(Detrended)"], "titlePadding": 3}}, "y2": {"field": "y2"}}},
    {"data": {"name": "Earr"},
     "mark": {"type": "point", "shape": "M-0.65,-1L0,0L0.65,-1", "filled": false, "strokeWidth": 1.3, "size": 200, "color": "#222", "opacity": 1},
     "encoding": {"x": {"field": "t", "type": "quantitative", "axis": {"values": [0,1,2,3,4,5,6,7,8,9,10,11,12,13,14,15], "title": "Circadian time (days)", "titlePadding": 10}}, "y": {"field": "y2", "type": "quantitative", "axis": {"values": [-10, -7.5, -5, -2.5, 0, 2.5, 5, 7.5, 10], "format": ".1f", "title": ["Relative light units x 10²", "(Detrended)"], "titlePadding": 3}}}},
    {"data": {"name": "one"},
     "mark": {"type": "text", "fontSize": 14, "fontWeight": "bold", "align": "left", "baseline": "middle"},
     "encoding": {"x": {"datum": 0.5, "axis": {"values": [0,1,2,3,4,5,6,7,8,9,10,11,12,13,14,15], "title": "Circadian time (days)", "titlePadding": 10}}, "y": {"datum": 9.8, "axis": {"values": [-10, -7.5, -5, -2.5, 0, 2.5, 5, 7.5, 10], "format": ".1f", "title": ["Relative light units x 10²", "(Detrended)"], "titlePadding": 3}}, "text": {"value": "E"}}}
   ]
  },
  {
   "width": 267, "height": 178,
   "layer": [
    {"data": {"name": "C"},
     "mark": {"type": "line", "interpolate": "monotone", "strokeWidth": 2},
     "encoding": {
      "x": {"field": "t", "type": "quantitative", "scale": {"domain": [0, 24], "nice": false}, "axis": {"values": [0, 6, 12, 18, 24], "title": "Circadian time (hours)", "titlePadding": 10}},
      "y": {"field": "v", "type": "quantitative", "scale": {"domain": [0, 8], "nice": false}, "axis": {"values": [0, 2, 4, 6, 8], "title": "Relative light units x 10³"}},
      "color": {"field": "s", "type": "nominal", "scale": {"domain": ["Vehicle Control", "RU486"], "range": ["#000000", "#ff1a1a"]}, "legend": {"orient": "none", "legendX": 34, "legendY": 9, "title": null}}
     }},
    {"data": {"name": "Cm"},
     "mark": {"type": "rule", "strokeWidth": 1},
     "encoding": {"x": {"field": "x", "type": "quantitative", "axis": {"values": [0, 6, 12, 18, 24], "title": "Circadian time (hours)", "titlePadding": 10}}, "y": {"field": "top", "type": "quantitative", "axis": {"values": [0, 2, 4, 6, 8], "title": "Relative light units x 10³"}}, "y2": {"field": "bot"}, "color": {"field": "s", "type": "nominal"}}},
    {"data": {"name": "Cm"},
     "mark": {"type": "rect", "filled": false, "strokeWidth": 1},
     "encoding": {"x": {"field": "b1", "type": "quantitative", "axis": {"values": [0, 6, 12, 18, 24], "title": "Circadian time (hours)", "titlePadding": 10}}, "x2": {"field": "b2"}, "y": {"field": "bot", "type": "quantitative", "axis": {"values": [0, 2, 4, 6, 8], "title": "Relative light units x 10³"}}, "y2": {"field": "bb"}, "color": {"field": "s", "type": "nominal"}}},
    {"data": {"name": "Cm"},
     "mark": {"type": "text", "angle": 90, "fontSize": 10, "align": "center", "baseline": "middle"},
     "encoding": {"x": {"field": "xc", "type": "quantitative", "axis": {"values": [0, 6, 12, 18, 24], "title": "Circadian time (hours)", "titlePadding": 10}}, "y": {"field": "yc", "type": "quantitative", "axis": {"values": [0, 2, 4, 6, 8], "title": "Relative light units x 10³"}}, "text": {"field": "lab"}, "color": {"field": "s", "type": "nominal"}}},
    {"data": {"name": "one"},
     "mark": {"type": "text", "fontSize": 9, "align": "center", "baseline": "middle"},
     "encoding": {"x": {"datum": 18.4, "axis": {"values": [0, 6, 12, 18, 24], "title": "Circadian time (hours)", "titlePadding": 10}}, "y": {"datum": -3.35, "axis": {"values": [0, 2, 4, 6, 8], "title": "Relative light units x 10³"}}, "text": {"value": "*P<0.05"}}},
    {"data": {"name": "one"},
     "mark": {"type": "text", "fontSize": 14, "fontWeight": "bold", "align": "left", "baseline": "middle"},
     "encoding": {"x": {"datum": 0.7, "axis": {"values": [0, 6, 12, 18, 24], "title": "Circadian time (hours)", "titlePadding": 10}}, "y": {"datum": 7.9, "axis": {"values": [0, 2, 4, 6, 8], "title": "Relative light units x 10³"}}, "text": {"value": "C"}}}
   ]
  }
]
}
